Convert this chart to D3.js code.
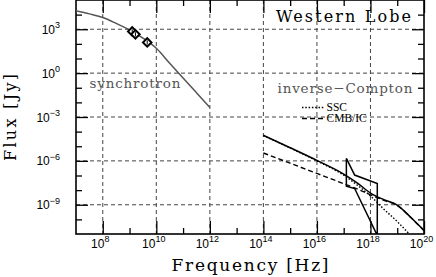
<!DOCTYPE html>
<html>
<head>
<meta charset="utf-8">
<script src="https://cdn.jsdelivr.net/npm/d3@7"></script>
<style>
  body { margin: 0; background: #fff; }
  svg { display: block; }
</style>
</head>
<body>
<div id="chart"></div>
<script>
// log10(frequency / Hz) and log10(flux / Jy)
var syncLogNu = [7, 7.5, 8, 8.5, 9, 9.5, 10, 10.5, 11, 11.5, 12];
var syncLogF  = [4.27, 4.05, 3.8, 3.4, 2.95, 2.4, 1.7, 0.68, -0.33, -1.34, -2.35];

var obsLogNu = [9.1, 9.22, 9.66];
var obsLogF  = [2.85, 2.65, 2.1];

var icLogNu    = [14, 15, 16, 17, 17.5, 18, 18.5, 19, 19.5, 20];
var totalLogF  = [-4.25, -5.1, -5.97, -6.9, -7.5, -8.2, -8.65, -9.02, -9.85, -10.75];
var cmbLogF    = [-5.46, -6.16, -6.86, -7.56, -7.92, -8.32, -8.7, -9.05, -9.86, -10.77];
var sscLogNu   = [14, 15, 16, 17, 17.5, 18, 18.5, 19, 19.5];
var sscLogF    = [-4.27, -5.12, -6.0, -6.98, -7.65, -8.4, -9.3, -10.15, -11.1];

// X-ray bow tie (polygon corners)
var bowLogNu = [17.1, 17.41, 18.255, 18.255, 17.41, 17.1];
var bowLogF  = [-5.83, -6.97, -7.55, -11.1, -7.89, -7.73];

var xMajor = [8, 10, 12, 14, 16, 18, 20];
var xMinor = [9, 11, 13, 15, 17, 19];
var yMajor = [3, 0, -3, -6, -9];
var yMinor = [4, 2, 1, -1, -2, -4, -5, -7, -8, -10];

var margin = {top: 0, right: 12, bottom: 43, left: 76},
    width = 436 - margin.left - margin.right,
    height = 277 - margin.top - margin.bottom;

var root = d3.select("#chart")
    .append("svg")
    .attr("width", 436)
    .attr("height", 277);

var svg = root.append("g")
    .attr("transform", "translate(" + margin.left + "," + margin.top + ")");

var x = d3.scaleLog().domain([1e7, 1e20]).range([0, width]);
var y = d3.scaleLog().domain([1e-11, 1e5]).range([height, 0]);

var p10 = function (e) { return Math.pow(10, e); };

svg.append("clipPath").attr("id", "clip")
    .append("rect").attr("width", width).attr("height", height);

// dashed grid at the labelled decades
svg.selectAll(".gx")
    .data(xMajor.filter(d => d < 20))
    .join("line")
    .attr("x1", d => x(p10(d))).attr("x2", d => x(p10(d)))
    .attr("y1", 0).attr("y2", height)
    .attr("stroke", "#444").attr("stroke-width", 1)
    .attr("stroke-dasharray", "4,3");

svg.selectAll(".gy")
    .data(yMajor)
    .join("line")
    .attr("y1", d => y(p10(d))).attr("y2", d => y(p10(d)))
    .attr("x1", 0).attr("x2", width)
    .attr("stroke", "#444").attr("stroke-width", 1)
    .attr("stroke-dasharray", "4,3");

// inward ticks on all four sides
function ticks(axis, vals, size, tr) {
    var g = svg.append("g").attr("transform", tr || null)
        .call(axis.tickValues(vals.map(p10)).tickSize(size).tickFormat(""));
    g.select(".domain").remove();
    g.selectAll("line").attr("stroke", "#000").attr("stroke-width", 1.3);
}
ticks(d3.axisBottom(x), xMajor, -13, "translate(0," + height + ")");
ticks(d3.axisBottom(x), xMinor, -6, "translate(0," + height + ")");
ticks(d3.axisTop(x), xMajor, -13);
ticks(d3.axisTop(x), xMinor, -6);
ticks(d3.axisLeft(y), yMajor, -12);
ticks(d3.axisLeft(y), yMinor, -6);
ticks(d3.axisRight(y), yMajor, -12, "translate(" + width + ",0)");
ticks(d3.axisRight(y), yMinor, -6, "translate(" + width + ",0)");

svg.append("rect")
    .attr("width", width).attr("height", height)
    .attr("fill", "none").attr("stroke", "#000").attr("stroke-width", 1.6);

// tick labels, 10 with a superscript exponent
var tickFont = "'Liberation Sans', Arial, sans-serif";
function expText(e) { return e < 0 ? "\u2212" + (-e) : "" + e; }

svg.selectAll(".xl")
    .data(xMajor)
    .join("text")
    .attr("x", d => x(p10(d)) - 2.5)
    .attr("y", height + 13.5)
    .attr("text-anchor", "middle")
    .style("font-family", tickFont)
    .style("font-size", "12px")
    .each(function (d) {
        var t = d3.select(this);
        t.append("tspan").text("10");
        t.append("tspan").attr("dy", -5.5).style("font-size", "9px").text(expText(d));
    });

svg.selectAll(".yl")
    .data(yMajor)
    .join("text")
    .attr("x", -16)
    .attr("y", d => y(p10(d)) + 4.5)
    .attr("text-anchor", "end")
    .style("font-family", tickFont)
    .style("font-size", "12px")
    .each(function (d) {
        var t = d3.select(this);
        t.append("tspan").text("10");
        t.append("tspan").attr("dy", -5.5).style("font-size", "9px").text(expText(d));
    });

// curves
var line = d3.line()
    .x(d => x(p10(d[0])))
    .y(d => y(p10(d[1])))
    .curve(d3.curveMonotoneX);

var plot = svg.append("g").attr("clip-path", "url(#clip)");

plot.append("path")
    .datum(d3.zip(syncLogNu, syncLogF))
    .attr("d", line)
    .attr("fill", "none").attr("stroke", "#555").attr("stroke-width", 1.5);

plot.append("path")
    .datum(d3.zip(icLogNu, cmbLogF))
    .attr("d", line)
    .attr("fill", "none").attr("stroke", "#000").attr("stroke-width", 1.4)
    .attr("stroke-dasharray", "5,3");

plot.append("path")
    .datum(d3.zip(sscLogNu, sscLogF))
    .attr("d", line)
    .attr("fill", "none").attr("stroke", "#000").attr("stroke-width", 1.4)
    .attr("stroke-dasharray", "1.5,1.8");

plot.append("path")
    .datum(d3.zip(icLogNu, totalLogF))
    .attr("d", line)
    .attr("fill", "none").attr("stroke", "#000").attr("stroke-width", 1.5);

plot.append("path")
    .datum(d3.zip(bowLogNu, bowLogF))
    .attr("d", d3.line().x(d => x(p10(d[0]))).y(d => y(p10(d[1]))).curve(d3.curveLinearClosed))
    .attr("fill", "none").attr("stroke", "#000").attr("stroke-width", 1.5);

// radio data points
var obs = plot.selectAll(".obs")
    .data(d3.zip(obsLogNu, obsLogF))
    .join("g")
    .attr("transform", d => "translate(" + x(p10(d[0])) + "," + y(p10(d[1])) + ") rotate(45)");
obs.append("rect")
    .attr("x", -3).attr("y", -3).attr("width", 6).attr("height", 6)
    .attr("fill", "#fff").attr("stroke", "#000").attr("stroke-width", 2);
obs.append("line")
    .attr("x1", -1.5).attr("y1", -1.5).attr("x2", 1.5).attr("y2", 1.5)
    .attr("stroke", "#000").attr("stroke-width", 1);

// labels
var serif = "'DejaVu Serif', serif";
svg.append("text")
    .attr("x", 200).attr("y", 21.5)
    .attr("textLength", 135).attr("lengthAdjust", "spacing")
    .style("font-family", serif).style("font-size", "16px")
    .text("Western Lobe");

svg.append("text")
    .attr("x", 13.5).attr("y", 88)
    .attr("textLength", 91).attr("lengthAdjust", "spacing")
    .style("font-family", serif).style("font-size", "13.5px").attr("fill", "#555")
    .text("synchrotron");

svg.append("text")
    .attr("x", 201.5).attr("y", 92.5)
    .attr("textLength", 135).attr("lengthAdjust", "spacing")
    .style("font-family", serif).style("font-size", "13.5px").attr("fill", "#555")
    .text("inverse\u2212Compton");

// legend
var legend = [
    {name: "SSC", dash: "1.5,1.8", y: 107.5},
    {name: "CMB/IC", dash: "5,3", y: 118.5}
];
legend.forEach(function (d) {
    svg.append("line")
        .attr("x1", 226).attr("x2", 248.5)
        .attr("y1", d.y).attr("y2", d.y)
        .attr("stroke", "#000").attr("stroke-width", 1.3)
        .attr("stroke-dasharray", d.dash);
    svg.append("text")
        .attr("x", 250.5).attr("y", d.y + 3.5)
        .style("font-family", "'Liberation Serif', serif")
        .style("font-size", "11.5px")
        .text(d.name);
});

// axis titles
root.append("text")
    .attr("x", margin.left + width / 2).attr("y", 271)
    .attr("text-anchor", "middle")
    .attr("textLength", 157).attr("lengthAdjust", "spacing")
    .style("font-family", serif).style("font-size", "17px")
    .text("Frequency [Hz]");

root.append("text")
    .attr("transform", "translate(16," + (height / 2 + 0.5) + ") rotate(-90)")
    .attr("text-anchor", "middle")
    .attr("textLength", 87).attr("lengthAdjust", "spacing")
    .style("font-family", serif).style("font-size", "16px")
    .text("Flux [Jy]");
</script>
</body>
</html>
